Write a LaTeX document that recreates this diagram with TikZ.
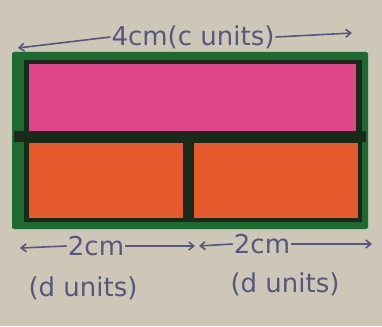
\documentclass[tikz,border=0pt]{standalone}
\usepackage{fontspec}
\setmainfont{DejaVu Sans}
\usetikzlibrary{arrows.meta}
\definecolor{bgc}{HTML}{CEC7B7}
\definecolor{frame}{HTML}{1E6A30}
\definecolor{pinkc}{HTML}{E0458A}
\definecolor{orangec}{HTML}{E45A2C}
\definecolor{ink}{HTML}{55587E}
\definecolor{edge}{HTML}{1A2A1A}
\tikzset{
  lbl/.style={text=ink, inner sep=1pt, font=\fontsize{26}{30}\selectfont},
  dim/.style={draw=ink, line width=1.6pt, -{Straight Barb[length=5pt,width=8pt]}},
}
\begin{document}
\begin{tikzpicture}[x=1pt,y=-1pt]
\fill[bgc] (0,0) rectangle (382,326);
\useasboundingbox (0,0) rectangle (382,326);
% frame and fills
\fill[frame, rounded corners=2pt] (12,52) rectangle (368,229);
\fill[edge] (24,60) rectangle (362,222);
\fill[pinkc] (29,64) rectangle (356,131);
\fill[edge] (14,131) rectangle (366,142);
\fill[orangec] (29,143) rectangle (183,218);
\fill[orangec] (194,143) rectangle (358,218);
% top dimension
\node[lbl] (top) at (193,37) {4cm(c units)};
\coordinate (tl) at (18,48);
\coordinate (tr) at (352,33);
\draw[dim] (top.west) -- (tl);
\draw[dim] (top.east) -- (tr);
% bottom dimensions
\node[lbl] (b1) at (96,246) {2cm};
\node[lbl] (b2) at (262,244) {2cm};
\coordinate (b1l) at (20,248);
\coordinate (b1r) at (195,246);
\coordinate (b2l) at (199,246);
\coordinate (b2r) at (372,244);
\draw[dim] (b1.west) -- (b1l);
\draw[dim] (b1.east) -- (b1r);
\draw[dim] (b2.west) -- (b2l);
\draw[dim] (b2.east) -- (b2r);
\node[lbl] (u1) at (83,288) {(d units)};
\node[lbl] (u2) at (285,284) {(d units)};
\end{tikzpicture}
\end{document}
